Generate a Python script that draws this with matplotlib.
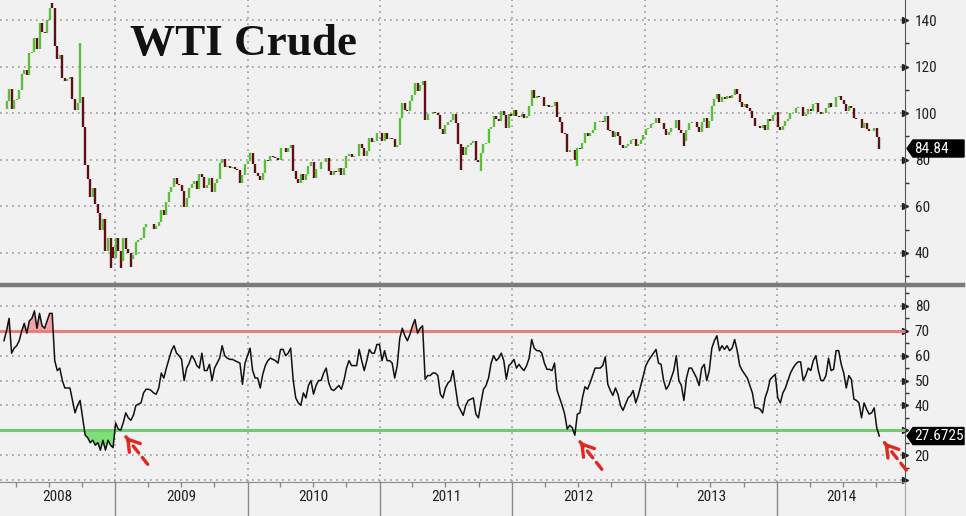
import numpy as np
import pandas as pd
import matplotlib
matplotlib.use('Agg')
import matplotlib.pyplot as plt
from matplotlib import font_manager
from matplotlib.lines import Line2D
from matplotlib.patches import Polygon
from matplotlib.transforms import Affine2D, ScaledTranslation, blended_transform_factory

# weekly WTI closes, first week ending 2008-02-29
close = np.array([
    101.84, 105.15, 110.21, 101.84, 105.62, 106.23, 110.14, 116.69, 118.52, 116.32,
    125.96, 126.29, 132.19, 127.35, 138.54, 134.86, 134.62, 140.21, 145.29, 145.08,
    128.88, 123.26, 125.10, 115.20, 113.77, 114.59, 115.46, 106.23, 101.18, 104.55,
    106.89, 93.88, 77.70, 71.85, 64.15, 67.81, 61.04, 57.04, 49.93, 54.43,
    40.81, 46.28, 42.36, 37.71, 46.34, 40.83, 36.51, 46.47, 41.68, 40.17,
    37.51, 38.94, 44.76, 45.52, 46.25, 51.06, 52.38, 52.51, 52.24, 50.33,
    51.55, 53.20, 58.63, 56.34, 61.67, 66.31, 68.44, 72.04, 69.55, 69.16,
    66.73, 59.89, 63.56, 68.05, 69.45, 70.93, 67.51, 73.89, 72.74, 68.02,
    69.29, 72.04, 66.02, 69.95, 71.77, 78.53, 80.50, 77.00, 77.43, 76.35,
    76.72, 76.05, 75.47, 69.87, 73.36, 78.05, 79.36, 82.75, 78.00, 74.54,
    72.89, 71.19, 74.13, 79.81, 79.66, 81.50, 81.24, 80.68, 80.00, 84.87,
    84.92, 83.24, 85.12, 86.15, 75.11, 71.61, 70.04, 73.97, 71.51, 73.78,
    77.18, 78.86, 72.14, 76.09, 76.01, 78.98, 78.95, 80.70, 75.39, 73.46,
    75.17, 74.60, 76.45, 73.66, 76.49, 81.58, 82.66, 81.25, 81.69, 81.43,
    86.85, 84.88, 81.51, 83.76, 89.19, 87.79, 88.02, 91.51, 91.38, 88.03,
    91.54, 89.11, 89.34, 89.03, 85.58, 86.20, 97.88, 104.42, 101.16, 101.07,
    105.40, 107.94, 112.79, 109.66, 112.29, 113.93, 97.18, 99.65, 99.49, 100.59,
    100.22, 99.29, 93.01, 91.16, 94.94, 96.20, 97.24, 99.87, 95.70, 86.88,
    85.38, 82.26, 85.37, 86.45, 87.24, 87.96, 79.85, 79.20, 82.98, 86.80,
    87.40, 93.32, 94.26, 98.99, 97.41, 96.77, 100.96, 99.41, 93.53, 99.68,
    98.83, 101.56, 98.70, 98.46, 99.56, 97.84, 98.67, 103.24, 109.77, 106.70,
    107.40, 107.06, 106.87, 103.02, 103.31, 102.83, 103.05, 104.93, 98.49, 96.13,
    91.48, 90.86, 83.23, 84.10, 84.03, 79.76, 84.96, 84.45, 87.10, 91.44,
    90.13, 91.40, 92.87, 96.01, 96.15, 96.47, 96.42, 98.99, 92.89, 92.19,
    89.88, 91.86, 90.05, 86.28, 84.86, 86.07, 86.92, 88.28, 88.91, 85.93,
    86.73, 88.66, 90.80, 93.09, 93.56, 95.56, 95.88, 97.77, 95.72, 95.86,
    93.13, 90.68, 91.95, 93.45, 93.71, 97.23, 92.70, 91.29, 88.01, 93.00,
    95.61, 96.04, 96.02, 94.15, 91.97, 96.03, 97.85, 93.69, 96.56, 103.22,
    105.95, 108.05, 104.70, 106.94, 106.03, 107.46, 106.42, 107.65, 110.53, 108.21,
    104.67, 102.87, 103.84, 102.02, 100.81, 97.85, 94.61, 94.60, 93.84, 94.84,
    92.72, 97.65, 96.60, 99.32, 100.32, 93.96, 92.72, 94.37, 96.64, 97.49,
    99.88, 100.30, 102.20, 102.59, 102.58, 98.89, 99.46, 101.67, 101.14, 103.74,
    104.30, 100.60, 99.76, 99.99, 102.02, 104.35, 102.71, 102.66, 106.91, 107.26,
    105.74, 104.06, 100.83, 103.13, 102.09, 97.88, 97.65, 97.35, 93.65, 95.96,
    93.29, 92.27, 92.41, 93.54, 89.74, 84.84,
])

# intraweek extremes that stick out beyond the close-to-close range
week_high = {19: 147.3, 30: 130.0}
week_low = {42: 33.5, 46: 33.6, 50: 34.0, 180: 75.7, 188: 75.0, 226: 77.3, 268: 86.1}

# weekly 14-period RSI
rsi = np.array([
    66, 70, 75, 61, 63, 64, 66, 70, 73, 69,
    74, 75, 78, 71, 77, 72, 71, 74, 77, 77,
    58, 54, 55, 50, 47, 47, 47, 42, 37, 40,
    42, 35, 28, 27, 25, 26, 24, 25, 22, 26,
    22, 26, 24, 23, 33, 30.5, 30, 33, 37, 35,
    34, 36, 40, 40.5, 41, 45, 46.5, 46.5, 46, 45,
    44.5, 47, 53, 51, 55, 58.5, 62, 64, 61, 60,
    58.5, 50, 55, 57, 60, 58.5, 56, 55, 61, 54,
    54, 56.5, 50, 55, 57, 59, 64, 60, 59, 58.5,
    58.5, 58, 57.5, 57, 48.5, 57, 60, 63, 54, 51,
    51, 47, 52.5, 56, 58, 59, 58.5, 58, 57, 62.5,
    62.5, 60, 61, 63, 50, 43, 41, 40, 45, 43,
    48, 50, 44.5, 48, 50, 50, 53, 55, 49, 46.5,
    46, 47, 48, 46.5, 50, 55, 58, 56, 56, 56,
    62.5, 58, 54, 58, 62.5, 61, 61, 64.5, 64.5, 58,
    62, 58, 58, 57, 51, 56, 67, 71, 68, 66,
    68.5, 72, 74.5, 69, 71, 72, 50.5, 52, 52, 53,
    53, 52, 44.5, 43, 47, 49, 50, 54, 47, 40,
    38, 36, 40, 42, 42.5, 43, 36.5, 35, 41, 46.5,
    48, 51, 57, 60, 58, 59, 61, 58, 50.5, 56,
    57, 58.5, 55, 56.5, 55, 54, 56, 59, 66.5, 63,
    62, 62, 61, 57, 54.5, 54.5, 54, 57, 46, 43,
    40, 36.5, 30.5, 32, 31, 28, 36.5, 37, 43, 47.5,
    46.5, 49, 52, 55, 55, 55, 56, 59.5, 48.5, 46,
    44, 47, 44.5, 40, 38, 40.5, 43, 44, 46, 41,
    44, 48, 52, 56, 58, 59.5, 61, 62.5, 57, 56.5,
    50, 46.5, 48, 51, 54, 60, 50, 48, 42, 51,
    55, 55, 53, 51, 48, 55, 56.5, 50, 54, 63,
    66, 68, 62, 64, 62.5, 64, 62, 63, 66.5, 62,
    56, 54, 52.5, 51, 48, 45, 39, 39, 38.5, 37,
    43, 46, 50.5, 51.5, 52.5, 43, 41, 45, 47, 50,
    53, 55, 56.5, 57.5, 57.5, 50, 52, 55, 54, 58,
    60, 54, 50, 50, 52, 59, 54, 54.5, 62, 62,
    56.5, 53, 47, 52, 50.5, 42.5, 42, 41, 35, 41,
    38.5, 36.5, 37, 39, 31, 27.6725,
])

weeks = pd.date_range('2008-02-29', periods=len(close), freq='7D')
years = list(range(2008, 2015))
price_ticks = [40, 60, 80, 100, 120, 140]
price_minor = [30, 50, 70, 90, 110, 130]
rsi_ticks = [10, 20, 30, 40, 50, 60, 70, 80]
rsi_labels = ['', '20', '', '40', '50', '60', '70', '80']   # 30 sits under the value tag
rsi_minor = [15, 25, 35, 45, 55, 65, 75, 85]
arrow_weeks = [46, 225, 345]
last_price_label = '84.84'
last_rsi_label = '27.6725'

BG = '#f1f1f1'
GREEN = '#5cbf3c'
DARKRED = '#5e1014'
GRID = '#9a9a9a'
RED = '#e3261f'

# the terminal font is a narrow sans; use a condensed face when one is installed
installed = {f.name for f in font_manager.fontManager.ttflist}
narrow = [n for n in ('Liberation Sans Narrow', 'DejaVu Sans Condensed', 'Roboto Condensed',
                      'Open Sans Condensed') if n in installed]
if narrow:
    plt.rcParams['font.family'] = [narrow[0], 'DejaVu Sans']
    fs, stretch = 11, 'normal'
else:
    plt.rcParams['font.family'] = ['Roboto', 'Liberation Sans', 'DejaVu Sans']
    fs, stretch = 10, 'condensed'
plt.rcParams['font.stretch'] = stretch

W, H = 966, 516
fig = plt.figure(figsize=(W / 100, H / 100), dpi=100, facecolor=BG)
ax1 = fig.add_axes([0, 1 - 283 / H, 905 / W, 283 / H])
ax2 = fig.add_axes([0, 34 / H, 905 / W, (482 - 287) / H])
x0, x1 = pd.Timestamp('2008-02-18'), pd.Timestamp('2014-12-20')
year_starts = pd.date_range('2009-01-01', '2014-01-01', freq='YS')
quarters = pd.date_range('2008-04-01', '2014-10-01', freq='QS')


def value_tag(ax, value, text):
    """black box with a notch pointing at the axis"""
    anchor = blended_transform_factory(ax.transAxes, ax.transData)
    tr = Affine2D() + ScaledTranslation(1.0, value, anchor)
    shape = Polygon([(2, 0), (8, -8.5), (59, -8.5), (59, 8.5), (8, 8.5)],
                    closed=True, transform=tr, fc='black', ec='black',
                    clip_on=False, zorder=10)
    ax.add_artist(shape)
    ax.annotate(text, xy=(1.0, value), xycoords=anchor, xytext=(9, 0),
                textcoords='offset pixels', color='white', fontsize=fs,
                va='center', ha='left', zorder=11, annotation_clip=False)


for ax in (ax1, ax2):
    ax.set_facecolor(BG)
    for side in ('left', 'top', 'bottom'):
        ax.spines[side].set_visible(False)
    ax.spines['right'].set_color('#555555')
    ax.yaxis.tick_right()
    ax.set_xticks(year_starts)
    ax.set_xticks(quarters, minor=True)
    ax.grid(True, which='major', color=GRID, linestyle=(0, (1, 2.6)), linewidth=1.2)
    ax.tick_params(axis='y', which='major', length=0, pad=7, labelsize=fs, labelcolor='#222222')
    ax.tick_params(axis='y', which='minor', length=3, width=1, color='#333333')
    ax.set_axisbelow(True)

# --- price panel
opens = np.r_[close[0], close[:-1]]
lo = np.minimum(opens, close)
hi = np.maximum(opens, close)
for k, v in week_high.items():
    hi[k] = max(hi[k], v)
for k, v in week_low.items():
    lo[k] = min(lo[k], v)
cols = np.where(close >= opens, GREEN, DARKRED)
ax1.vlines(weeks, lo, hi, colors=cols, linewidth=1.7, zorder=3)

ax1.set_yticks(price_ticks)
ax1.set_yticks(price_minor, minor=True)
ax1.tick_params(axis='x', which='both', length=0, labelbottom=False)
ax1.plot([1.0] * len(price_ticks), price_ticks, ls='none', marker='>', ms=4.5,
         color='#222222', transform=ax1.get_yaxis_transform(), clip_on=False)
ax1.set_xlim(x0, x1)
ax1.set_ylim(27.1, 148.6)
value_tag(ax1, close[-1], last_price_label)

fig.text(130 / W, 1 - 55 / H, 'WTI Crude', family=['Liberation Serif', 'DejaVu Serif'],
         fontweight='bold', fontstretch='normal', fontsize=32.5, va='baseline', color='#111111')

# --- RSI panel
ax2.fill_between(weeks, rsi, 70, where=rsi > 70, interpolate=True, color='#f2a3a3', lw=0, zorder=2)
ax2.fill_between(weeks, rsi, 30, where=rsi < 30, interpolate=True, color='#7fe07a', lw=0, zorder=2)
ax2.axhline(70, color='#e58080', lw=2.2, zorder=2.5)
ax2.axhline(30, color='#70cc6c', lw=2.2, zorder=2.5)
ax2.plot(weeks, rsi, color='#111111', lw=1.1, zorder=3)

ax2.set_yticks(rsi_ticks)
ax2.set_yticklabels(rsi_labels)
ax2.set_yticks(rsi_minor, minor=True)
ax2.plot([1.0] * len(rsi_ticks), rsi_ticks, ls='none', marker='>', ms=4.5,
         color='#222222', transform=ax2.get_yaxis_transform(), clip_on=False)
ax2.spines['bottom'].set_visible(True)
ax2.spines['bottom'].set_color('#8a8a8a')
ax2.tick_params(axis='x', which='major', length=24.5, width=1, color='#8a8a8a', labelbottom=False)
ax2.tick_params(axis='x', which='minor', length=3.6, width=1, color='#8a8a8a')
ax2.set_xlim(x0, x1)
ax2.set_ylim(9.2, 87.6)
value_tag(ax2, rsi[-1], last_rsi_label)

for yr in years:
    a = max(pd.Timestamp(yr, 1, 1), x0)
    b = min(pd.Timestamp(yr + 1, 1, 1), x1)
    ax2.text(a + (b - a) / 2, -0.078, str(yr), transform=ax2.get_xaxis_transform(),
             ha='center', va='center', fontsize=fs, color='#222222')

# red dashed arrows pointing at the oversold lows
for k in arrow_weeks:
    pt = (weeks[k], rsi[k])
    ax2.annotate('', xy=pt, xytext=(27, -34), textcoords='offset pixels',
                 arrowprops=dict(arrowstyle='-', color=RED, lw=2.4,
                                 linestyle=(0, (2.6, 1.8)), shrinkA=0, shrinkB=6),
                 annotation_clip=False, zorder=6)
    ax2.annotate('', xy=pt, xytext=(8, -10), textcoords='offset pixels',
                 arrowprops=dict(arrowstyle='->,head_length=0.8,head_width=0.5',
                                 color=RED, lw=2.4, shrinkA=0, shrinkB=6),
                 annotation_clip=False, zorder=6)

# thick separator between the panels and the right edge below the axis
fig.add_artist(Line2D([0, 0.997], [1 - 285 / H, 1 - 285 / H], transform=fig.transFigure,
                      color='#7a7a7a', lw=3.2))
fig.add_artist(Line2D([905 / W, 905 / W], [0, 34 / H], transform=fig.transFigure,
                      color='#b0b0b0', lw=1))

fig.savefig('out.png', dpi=100, facecolor=BG)
